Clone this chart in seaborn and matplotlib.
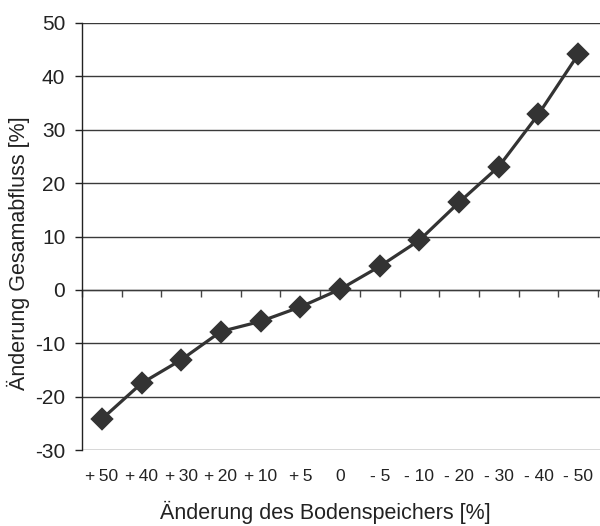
import numpy as np
import pandas as pd
import matplotlib
matplotlib.use("Agg")
import matplotlib.pyplot as plt
import seaborn as sns

sns.set_theme(style="white")
plt.rcParams['font.family'] = ['Liberation Sans', 'DejaVu Sans']
plt.rcParams['axes.unicode_minus'] = False

# data
storage_change = ["+\u200950", "+\u200940", "+\u200930", "+\u200920", "+\u200910", "+\u20095", "0",
                  "- 5", "- 10", "- 20", "- 30", "- 40", "- 50"]
runoff_change = [-24.2, -17.5, -13.1, -7.8, -5.9, -3.2, 0.1,
                 4.4, 9.3, 16.4, 23.1, 32.9, 44.1]
y_ticks = [-30, -20, -10, 0, 10, 20, 30, 40, 50]

df = pd.DataFrame({"Bodenspeicher": storage_change, "Gesamtabfluss": runoff_change})

fig = plt.figure(figsize=(6.0, 5.26), dpi=100)
ax = fig.add_axes([82 / 600, 1 - 450 / 526, 518 / 600, 427 / 526])

sns.pointplot(data=df, x="Bodenspeicher", y="Gesamtabfluss", ax=ax,
              color="#333333", marker="D", markersize=10.5, linewidth=2.3,
              errorbar=None)

ax.set_xlim(-0.5, len(storage_change) - 0.45)
ax.set_ylim(-30, 50)
ax.set_yticks(y_ticks)
ax.yaxis.grid(True, color="#3a3a3a", linewidth=1.0)
ax.xaxis.grid(False)
ax.set_axisbelow(True)

for side in ["top", "right", "bottom"]:
    ax.spines[side].set_visible(False)
ax.spines["left"].set_color("#222222")
ax.spines["left"].set_linewidth(1.0)

ax.tick_params(axis="y", length=5, width=1, color="#222222", direction="out",
               labelsize=15, pad=7, left=True)
ax.tick_params(axis="x", length=0, labelsize=12.5, pad=14)

# zero line with category boundary ticks
zero_frac = (0 - (-30)) / 80
sec = ax.secondary_xaxis(zero_frac)
sec.set_xticks(np.arange(len(storage_change) + 1) - 0.5)
sec.set_xticklabels([])
sec.tick_params(axis="x", direction="out", length=5, width=1, color="#444444")
sec.spines["bottom"].set_color("#666666")
sec.spines["bottom"].set_linewidth(1.0)

ax.set_xlabel("Änderung des Bodenspeichers [%]", fontsize=15.5, color="#222222")
ax.set_ylabel("Änderung Gesamabfluss [%]", fontsize=15.5, color="#222222")
ax.xaxis.set_label_coords(0.469, -0.118)
ax.yaxis.set_label_coords(-0.1, 0.461)
for t in ax.get_xticklabels() + ax.get_yticklabels():
    t.set_color("#222222")

fig.savefig("out.png", dpi=100)
